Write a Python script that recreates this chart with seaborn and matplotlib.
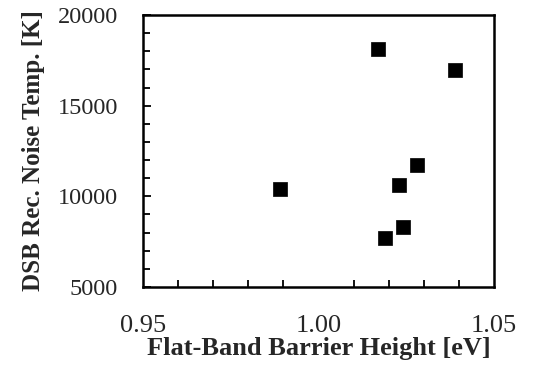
import numpy as np
import pandas as pd
import seaborn as sns
import matplotlib.pyplot as plt
from matplotlib.ticker import MultipleLocator

# values
barrier_ev = [1.017, 1.039, 1.028, 1.023, 0.989, 1.024, 1.019]
noise_temp_k = [18100, 16950, 11750, 10600, 10430, 8280, 7720]
xticks = [0.95, 1.00, 1.05]
yticks = [5000, 10000, 15000, 20000]

df = pd.DataFrame({'barrier': barrier_ev, 'temp': noise_temp_k})

sns.set_style('ticks')
plt.rcParams['font.family'] = ['Liberation Serif', 'DejaVu Serif']

fig = plt.figure(figsize=(5.38, 3.66), dpi=100)
ax = fig.add_axes([0.266, 0.216, 0.652, 0.743])

sns.scatterplot(data=df, x='barrier', y='temp', marker='s', s=90,
                color='black', edgecolor='black', linewidth=0.5, ax=ax)

ax.set_xlim(0.95, 1.05)
ax.set_ylim(5000, 20000)
ax.set_xticks(xticks)
ax.set_xticklabels(['%.2f' % t for t in xticks])
ax.set_yticks(yticks)
ax.set_yticklabels([str(t) for t in yticks])
ax.xaxis.set_minor_locator(MultipleLocator(0.01))
ax.yaxis.set_minor_locator(MultipleLocator(1000))

ax.tick_params(axis='both', which='both', direction='in', color='black')
ax.tick_params(axis='x', which='major', length=0, pad=20, labelsize=19)
ax.tick_params(axis='x', which='minor', length=5, width=1.3)
ax.tick_params(axis='y', which='major', length=6, width=1.3, pad=18, labelsize=17.5)
ax.tick_params(axis='y', which='minor', length=5, width=1.3)

for side in ax.spines.values():
    side.set_visible(True)
    side.set_color('black')
    side.set_linewidth(1.8)

ax.set_xlabel('Flat-Band Barrier Height [eV]', fontsize=19, fontweight='bold', labelpad=0)
ax.set_ylabel('DSB Rec. Noise Temp. [K]', fontsize=18, fontweight='bold', labelpad=9)

fig.savefig('out.png', dpi=100)
